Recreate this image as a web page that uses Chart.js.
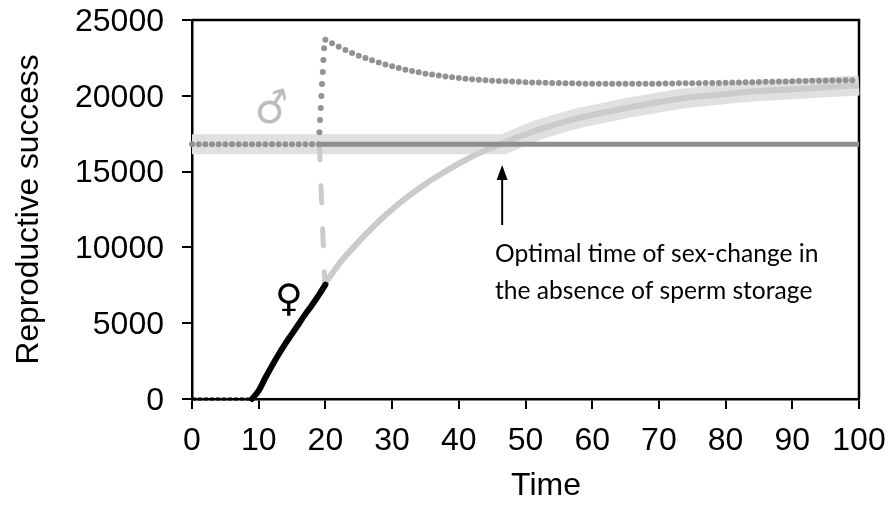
<!DOCTYPE html>
<html>
<head>
<meta charset="utf-8">
<title>Reproductive success</title>
<script src="https://cdn.jsdelivr.net/npm/chart.js@4/dist/chart.umd.min.js"></script>
<style>
  html, body { margin: 0; background: #fff; }
  canvas { display: block; }
</style>
</head>
<body>
<canvas id="chart" width="888" height="511"></canvas>
<script>
// male, dotted: flat part, the jump just before t=20, then the decay
const maleTime = [0,1,2,3,4,5,6,7,8,9,10,11,12,13,14,15,16,17,18,19,19.1,19.2,19.3,19.4,19.5,19.6,19.7,19.8,20,
  21,22,23,24,25,26,27,28,29,30,31,32,33,34,35,36,37,38,39,40,41,42,43,44,45,46,47,48,49,50,
  51,52,53,54,55,56,57,58,59,60,61,62,63,64,65,66,67,68,69,70,71,72,73,74,75,76,77,78,79,80,
  81,82,83,84,85,86,87,88,89,90,91,92,93,94,95,96,97,98,99];
const maleValues = [16800,16800,16800,16800,16800,16800,16800,16800,16800,16800,16800,16800,16800,16800,16800,16800,16800,16800,16800,16800,
  17590,18400,19190,19985,20780,21570,22360,23130,23700,
  23460,23240,23020,22820,22650,22490,22340,22200,22070,21950,21830,21720,21630,21550,21460,21400,21340,21280,21220,21170,
  21130,21090,21060,21030,21000,20980,20960,20940,20920,20900,
  20880,20870,20860,20850,20840,20830,20820,20810,20800,20800,20800,20790,20790,20790,20790,20800,20800,20800,20800,20800,
  20810,20810,20820,20820,20830,20830,20840,20840,20850,20860,
  20870,20880,20890,20900,20910,20920,20930,20940,20950,20960,20970,20980,20990,21000,21000,21010,21010,21020,21020];

// gray curve after the change to male
const curveTime = [20,22.2,24.2,26.7,29.2,32.2,35.2,37.2,40.7,44.2,46.7,51.2,55.2,58.2,65.7,73.2,80.7,85,90,95,100];
const curveValues = [7650,9000,10000,11150,12200,13300,14250,14800,15700,16450,16900,17650,18200,18550,19240,19800,20150,20320,20430,20560,20680];

// thick pale band follows the better of the two strategies
const bandTime = [0,46.7,51.2,55.2,58.2,65.7,73.2,80.7,85,90,95,100];
const bandValues = [16800,16800,17650,18200,18550,19240,19800,20150,20320,20430,20560,20680];

const stayMaleTime = [19, 100];
const stayMaleValues = [16800, 16800];

const switchTime = [19.1, 19.9];
const switchValues = [16800, 7650];

const femaleTime = [9,10,11,12,13,14,15,16,17,18,19,20];
const femaleValues = [0,550,1400,2200,2950,3650,4300,4950,5600,6200,6850,7550];
const juvenileTime = [0,1,2,3,4,5,6,7,8,9];
const juvenileValues = [0,0,0,0,0,0,0,0,0,0];

const xTicks = [0,10,20,30,40,50,60,70,80,90,100];
const yTicks = [0,5000,10000,15000,20000,25000];

const xTitle = "Time";
const noteLines = ["Optimal time of sex-change in", "the absence of sperm storage"];
const arrowTime = 46.5;
const arrowFrom = 11480;
const arrowTo = 15440;

const toPoints = (xs, ys) => xs.map((x, i) => ({ x: x, y: ys[i] }));

const lineSet = (xs, ys, color, width, extra) => Object.assign({
  data: toPoints(xs, ys),
  showLine: true,
  borderColor: color,
  backgroundColor: color,
  borderWidth: width,
  pointRadius: 0,
  clip: false
}, extra);

// frame, symbols, note and arrow
const extras = {
  id: "extras",
  beforeDatasetsDraw(chart) {
    const { ctx, chartArea: a } = chart;
    ctx.save();
    ctx.strokeStyle = "#000";
    ctx.lineWidth = 2.5;
    ctx.beginPath();
    ctx.moveTo(a.left, a.top);
    ctx.lineTo(a.right, a.top);
    ctx.lineTo(a.right, a.bottom);
    ctx.stroke();
    ctx.restore();
  },
  afterDatasetsDraw(chart) {
    const { ctx, scales: { x, y } } = chart;
    ctx.save();
    ctx.textAlign = "center";
    ctx.textBaseline = "middle";
    ctx.font = "42px 'DejaVu Sans'";
    ctx.fillStyle = "#bdbdbd";
    ctx.save();
    ctx.translate(273, 111);
    ctx.rotate(-15 * Math.PI / 180);
    ctx.fillText("\u2642", 0, 0);
    ctx.restore();
    ctx.fillStyle = "#000";
    ctx.font = "38px 'DejaVu Sans'";
    ctx.fillText("\u2640", 289, 301);

    // the axis title sits right of the plot centre in the original
    ctx.font = "32px 'Liberation Sans'";
    ctx.fillText(xTitle, 546, 486);

    ctx.textAlign = "left";
    ctx.textBaseline = "alphabetic";
    ctx.font = "24.6px Lato";
    ctx.fillText(noteLines[0], 495, 262);
    ctx.fillText(noteLines[1], 495, 299);

    const ax = x.getPixelForValue(arrowTime);
    const tail = y.getPixelForValue(arrowFrom);
    const tip = y.getPixelForValue(arrowTo);
    ctx.strokeStyle = "#000";
    ctx.lineWidth = 2;
    ctx.beginPath();
    ctx.moveTo(ax, tail);
    ctx.lineTo(ax, tip + 10);
    ctx.stroke();
    ctx.beginPath();
    ctx.moveTo(ax, tip);
    ctx.lineTo(ax - 5.5, tip + 15);
    ctx.lineTo(ax + 5.5, tip + 15);
    ctx.closePath();
    ctx.fill();
    ctx.restore();
  }
};

const plainTick = (v) => String(v);

new Chart(document.getElementById("chart").getContext("2d"), {
  type: "scatter",
  data: {
    datasets: [
      lineSet(bandTime, bandValues, "#e0e0e0", 20, { order: 6, tension: 0 }),
      lineSet(curveTime, curveValues, "#cbcbcb", 6, { order: 5, cubicInterpolationMode: "monotone" }),
      lineSet(switchTime, switchValues, "#cbcbcb", 5, { order: 4, borderDash: [17, 26], borderDashOffset: 1.5, borderCapStyle: "round" }),
      lineSet(stayMaleTime, stayMaleValues, "#8f8f8f", 5, { order: 3 }),
      { data: toPoints(maleTime, maleValues), pointRadius: 3, pointBackgroundColor: "#929292", pointBorderWidth: 0, clip: false, order: 2 },
      lineSet(femaleTime, femaleValues, "#000", 6, { order: 1, borderCapStyle: "round", cubicInterpolationMode: "monotone" }),
      { data: toPoints(juvenileTime, juvenileValues), showLine: true, borderColor: "#000", borderWidth: 3, borderDash: [4, 2], pointRadius: 0, clip: false, order: 0 }
    ]
  },
  options: {
    responsive: false,
    animation: false,
    layout: { padding: { top: 20, right: 29, left: 0, bottom: 0 } },
    plugins: { legend: { display: false }, tooltip: { enabled: false } },
    scales: {
      x: {
        type: "linear",
        min: 0,
        max: 100,
        afterBuildTicks: (s) => { s.ticks = xTicks.map((v) => ({ value: v })); },
        afterFit: (s) => { s.height = 112; s.paddingLeft = 0; s.paddingRight = 0; },
        grid: { drawOnChartArea: false, color: "#000", tickLength: 10, lineWidth: 2 },
        border: { color: "#000", width: 2.5 },
        ticks: { color: "#000", font: { family: "'Liberation Sans'", size: 32 }, maxRotation: 0, padding: 13, autoSkip: false, callback: plainTick }
      },
      y: {
        min: 0,
        max: 25000,
        afterBuildTicks: (s) => { s.ticks = yTicks.map((v) => ({ value: v })); },
        afterFit: (s) => { s.width = 192; s.paddingTop = 0; s.paddingBottom = 0; },
        grid: { drawOnChartArea: false, color: "#000", tickLength: 10, lineWidth: 2 },
        border: { color: "#000", width: 2.5 },
        ticks: { color: "#000", font: { family: "'Liberation Sans'", size: 32 }, padding: 18, labelOffset: 2, autoSkip: false, callback: plainTick },
        title: { display: true, text: "Reproductive success", color: "#000", font: { family: "'Liberation Sans'", size: 31.7 }, padding: { top: 10, bottom: 0 } }
      }
    }
  },
  plugins: [extras]
});
</script>
</body>
</html>
